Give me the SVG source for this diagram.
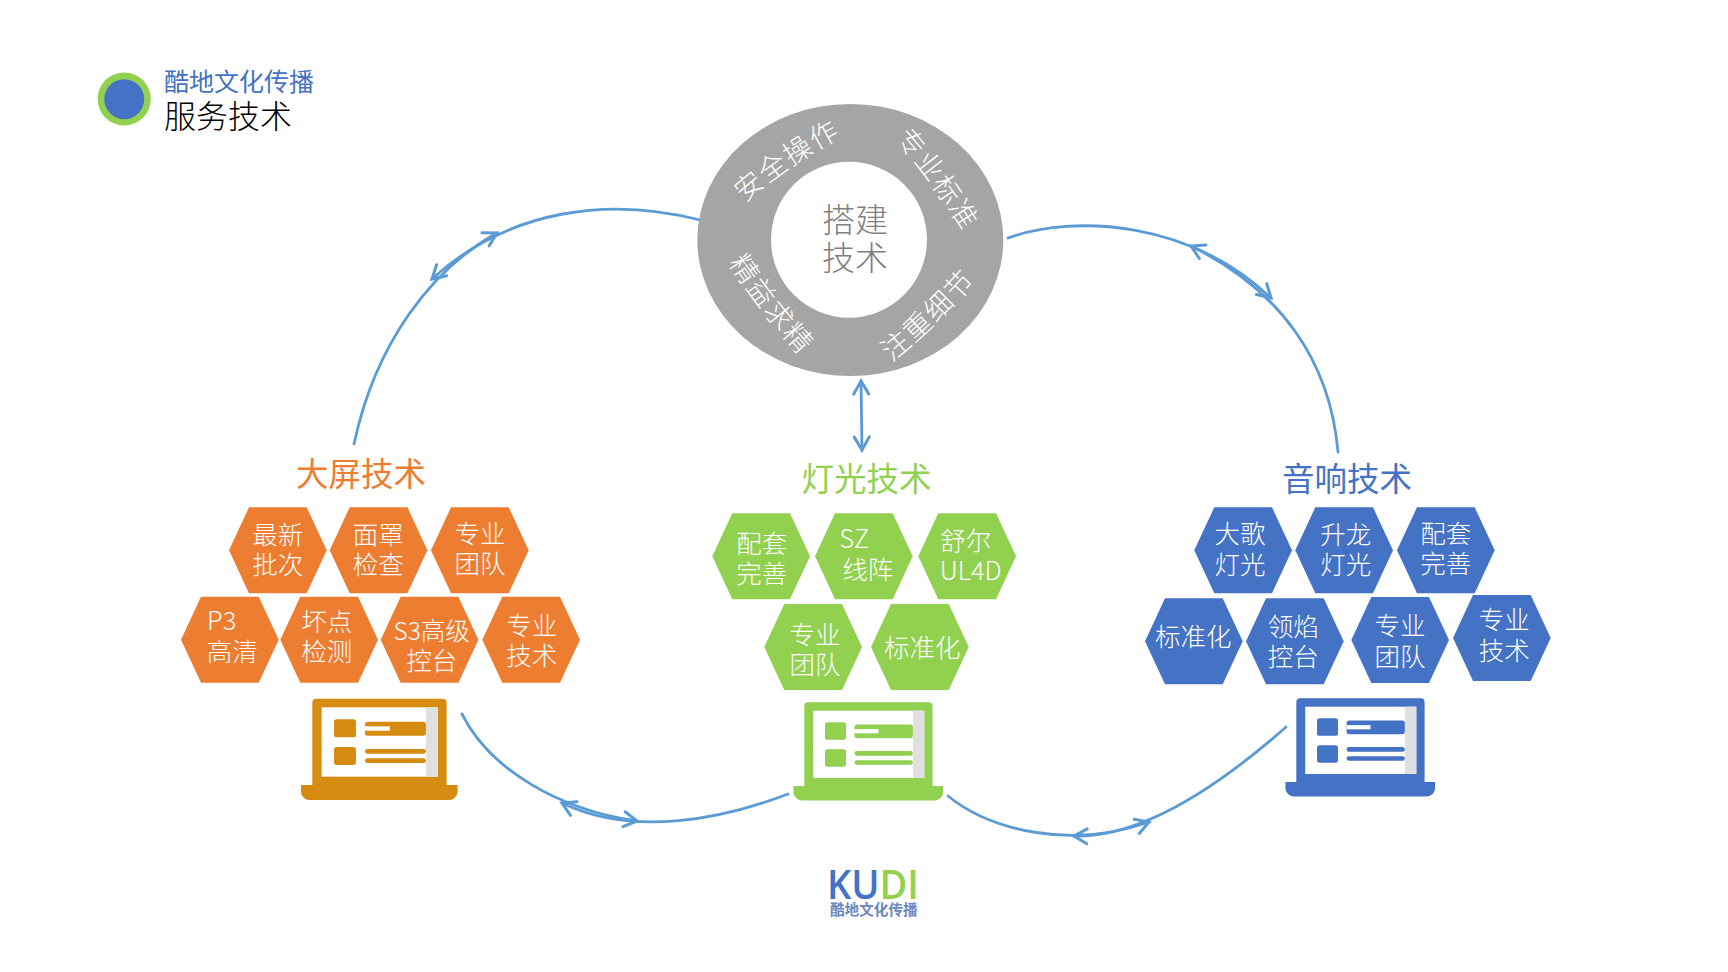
<svg xmlns="http://www.w3.org/2000/svg" xmlns:xlink="http://www.w3.org/1999/xlink" width="1728" height="972" viewBox="0 0 1728 972">
<style>
text{font-family:"Noto Sans CJK SC","Liberation Sans",sans-serif;font-weight:300}
.h{fill:#fff;font-size:25.5px;text-anchor:middle;transform:translateY(1.5px)}
.t{font-size:32.5px;text-anchor:middle;font-weight:400;transform:translateY(2px)}
.r{fill:#fff;font-size:28px;text-anchor:middle}
.c{fill:none;stroke:#5B9BD5;stroke-width:2.8;stroke-linecap:round}
.ho{fill:#ED7D31}.hg{fill:#92D050}.hb{fill:#4472C4}
</style>
<defs>
<marker id="arr" markerUnits="userSpaceOnUse" markerWidth="20" markerHeight="20" viewBox="-16 -10 20 20" refX="0" refY="0" orient="auto"><path d="M-13,-7.5L0,0L-13,7.5" fill="none" stroke="#5B9BD5" stroke-width="3" stroke-linecap="round"/></marker>
<marker id="arrS" markerUnits="userSpaceOnUse" markerWidth="20" markerHeight="20" viewBox="-16 -10 20 20" refX="0" refY="0" orient="auto-start-reverse"><path d="M-13,-7.5L0,0L-13,7.5" fill="none" stroke="#5B9BD5" stroke-width="3" stroke-linecap="round"/></marker>
<polygon id="hex" points="0,43 20,0 77.7,0 97.7,43 77.7,86 20,86"/>
<g id="lap">
<path d="M12,0H391a12,12 0 0 1 12,12V259H436V278a26,26 0 0 1 -26,26H-8a26,26 0 0 1 -26,-26V259H0V12a12,12 0 0 1 12,-12Z"/>
<rect x="28" y="26" width="349" height="208" fill="#fff"/>
<rect x="341" y="26" width="36" height="208" fill="#E0E0E0"/>
<rect x="65" y="62" width="66" height="54" rx="8"/>
<rect x="65" y="145" width="66" height="54" rx="8"/>
<rect x="158" y="69" width="183" height="42" rx="8"/>
<rect x="158" y="83" width="75" height="13" fill="#fff"/>
<rect x="158" y="151" width="183" height="14" rx="7"/>
<rect x="158" y="179" width="183" height="14" rx="7"/>
</g>
<path id="a1" d="M733.1,213.5Q787.7,161.7 856,129.7"/>
<path id="a2" d="M883.9,127Q934,181.5 971.1,245.4"/>
<path id="a3" d="M877.9,372.6Q938.4,326 987.9,267.8"/>
<path id="a4" d="M719,248Q759.5,313 812.5,368.4"/>
</defs>
<rect width="1728" height="972" fill="#fff"/>

<g id="header">
<circle cx="124.2" cy="99" r="26.6" fill="#92D050"/>
<circle cx="124.2" cy="99.2" r="20" fill="#4472C4"/>
<text x="164" y="91" font-size="25" fill="#4472C4" style="font-weight:400">酷地文化传播</text>
<text x="164" y="128" font-size="32" fill="#000">服务技术</text>
</g>

<g id="connectors">
<path class="c" marker-end="url(#arr)" d="M354,444C375,345 430,270 497,233"/>
<path class="c" marker-end="url(#arr)" d="M700,220C610,197 510,208 432,279"/>
<path class="c" marker-end="url(#arr)" d="M1008,238C1075,214 1190,221 1271,298"/>
<path class="c" marker-end="url(#arr)" d="M1338,452C1330,360 1280,290 1191,246"/>
<path class="c" marker-end="url(#arr)" d="M462,714C490,770 560,810 637,821"/>
<path class="c" marker-end="url(#arr)" d="M788,794C725,818 635,838 562,803"/>
<path class="c" marker-end="url(#arr)" d="M948,796C990,830 1070,850 1149,822"/>
<path class="c" marker-end="url(#arr)" d="M1286,727C1235,772 1150,838 1074,836"/>
<path class="c" marker-start="url(#arrS)" marker-end="url(#arrS)" d="M861,381L862,450"/>
</g>

<g id="hub">
<ellipse cx="850.3" cy="240" rx="153" ry="136" fill="#A5A5A5"/>
<circle cx="849" cy="239.7" r="78" fill="#fff"/>
<text x="855" y="232" font-size="33" fill="#7F7F7F" text-anchor="middle">搭建</text>
<text x="855" y="270" font-size="33" fill="#7F7F7F" text-anchor="middle">技术</text>
<text class="r" letter-spacing="1.5"><textPath href="#a1" xlink:href="#a1" startOffset="50%">安全操作</textPath></text>
<text class="r" letter-spacing="1"><textPath href="#a2" xlink:href="#a2" startOffset="50%">专业标准</textPath></text>
<text class="r" letter-spacing="1.5"><textPath href="#a3" xlink:href="#a3" startOffset="50%">注重细节</textPath></text>
<text class="r" letter-spacing="1.5"><textPath href="#a4" xlink:href="#a4" startOffset="50%">精益求精</textPath></text>
</g>

<g id="screen-tech">
<text class="t" x="361" y="484" fill="#ED7D31">大屏技术</text>
<use href="#lap" xlink:href="#lap" transform="translate(312.3,698.7) scale(.3333)" fill="#D68C10"/>
<g id="o1"><use href="#hex" xlink:href="#hex" class="ho" x="229" y="507.3"/><text class="h" x="277.7" y="542">最新</text><text class="h" x="277.7" y="572.5">批次</text></g>
<g id="o2"><use href="#hex" xlink:href="#hex" class="ho" x="329.7" y="507.3"/><text class="h" x="378.3" y="542">面罩</text><text class="h" x="378.3" y="572.5">检查</text></g>
<g id="o3"><use href="#hex" xlink:href="#hex" class="ho" x="431" y="507.3"/><text class="h" x="480" y="541">专业</text><text class="h" x="480" y="571">团队</text></g>
<g id="o4"><use href="#hex" xlink:href="#hex" class="ho" x="181" y="596.7"/><text class="h" x="221.7" y="628">P3</text><text class="h" x="232.3" y="659.5">高清</text></g>
<g id="o5"><use href="#hex" xlink:href="#hex" class="ho" x="280.3" y="596.7"/><text class="h" x="326.7" y="629.5">坏点</text><text class="h" x="326.7" y="659.5">检测</text></g>
<g id="o6"><use href="#hex" xlink:href="#hex" class="ho" x="380.7" y="596.7"/><text class="h" x="431.7" y="638.5" style="font-size:24.5px">S3高级</text><text class="h" x="431.7" y="668.5">控台</text></g>
<g id="o7"><use href="#hex" xlink:href="#hex" class="ho" x="482.3" y="596.7"/><text class="h" x="531.7" y="633.5">专业</text><text class="h" x="531.7" y="663.5">技术</text></g>
</g>

<g id="light-tech">
<text class="t" x="866.5" y="489" fill="#92D050">灯光技术</text>
<use href="#lap" xlink:href="#lap" transform="translate(804.3,702.3) scale(.3183,.3233)" fill="#92D050"/>
<g id="g1"><use href="#hex" xlink:href="#hex" class="hg" x="712.3" y="513.3"/><text class="h" x="761.7" y="551">配套</text><text class="h" x="761.7" y="581">完善</text></g>
<g id="g2"><use href="#hex" xlink:href="#hex" class="hg" x="815" y="513.3"/><text class="h" x="854.3" y="546">SZ</text><text class="h" x="867.7" y="577">线阵</text></g>
<g id="g3"><use href="#hex" xlink:href="#hex" class="hg" x="918.3" y="513.3"/><text class="h" x="965.7" y="548.5">舒尔</text><text class="h" x="970.7" y="578">UL4D</text></g>
<g id="g4"><use href="#hex" xlink:href="#hex" class="hg" x="764.3" y="604"/><text class="h" x="815" y="642">专业</text><text class="h" x="815" y="672">团队</text></g>
<g id="g5"><use href="#hex" xlink:href="#hex" class="hg" x="871" y="604"/><text class="h" x="922.3" y="655">标准化</text></g>
</g>

<g id="sound-tech">
<text class="t" x="1347" y="489" fill="#4472C4">音响技术</text>
<use href="#lap" xlink:href="#lap" transform="translate(1296.3,698.3) scale(.3183,.3233)" fill="#4472C4"/>
<g id="b1"><use href="#hex" xlink:href="#hex" class="hb" x="1194.3" y="507.3"/><text class="h" x="1240" y="541">大歌</text><text class="h" x="1240" y="572">灯光</text></g>
<g id="b2"><use href="#hex" xlink:href="#hex" class="hb" x="1295.3" y="507.3"/><text class="h" x="1345.7" y="542.5">升龙</text><text class="h" x="1345.7" y="572.5">灯光</text></g>
<g id="b3"><use href="#hex" xlink:href="#hex" class="hb" x="1397" y="507.3"/><text class="h" x="1445.7" y="541.5">配套</text><text class="h" x="1445.7" y="571.5">完善</text></g>
<g id="b4"><use href="#hex" xlink:href="#hex" class="hb" x="1145" y="598.3"/><text class="h" x="1193.3" y="644">标准化</text></g>
<g id="b5"><use href="#hex" xlink:href="#hex" class="hb" x="1246" y="598.3"/><text class="h" x="1293.3" y="634">领焰</text><text class="h" x="1293.3" y="664">控台</text></g>
<g id="b6"><use href="#hex" xlink:href="#hex" class="hb" x="1351.3" y="597"/><text class="h" x="1400" y="633.5">专业</text><text class="h" x="1400" y="664">团队</text></g>
<g id="b7"><use href="#hex" xlink:href="#hex" class="hb" x="1453" y="595"/><text class="h" x="1504.3" y="627.5">专业</text><text class="h" x="1504.3" y="658.5">技术</text></g>
</g>

<g id="logo">
<text x="827" y="899.3" font-size="40" style="font-family:'Open Sans','Liberation Sans',sans-serif;font-weight:600" textLength="92" lengthAdjust="spacingAndGlyphs"><tspan fill="#4472C4">KU</tspan><tspan fill="#92D050">DI</tspan></text>
<text x="830" y="915" font-size="14.6" fill="#6C86BE" style="font-weight:700">酷地文化传播</text>
</g>
</svg>
